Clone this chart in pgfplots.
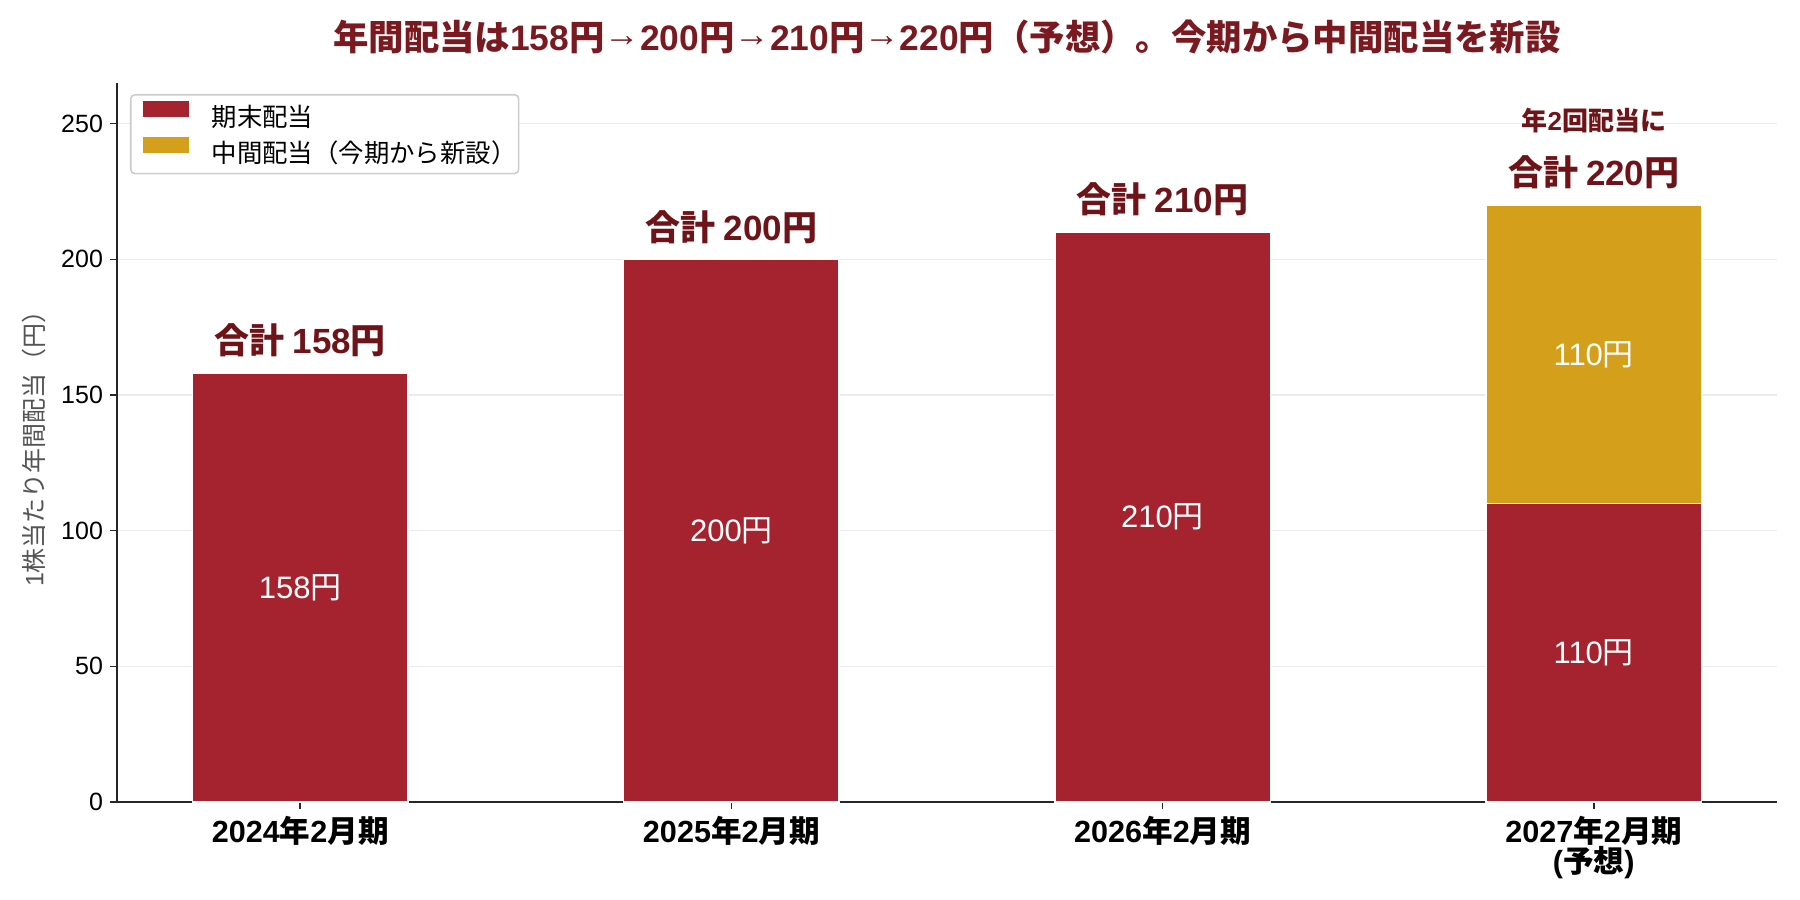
\documentclass[border=0pt]{standalone}
\usepackage{fontspec}
\setmainfont{Noto Sans CJK JP}
\newfontfamily\lat{Liberation Sans}
\newcommand\n[1]{{\lat #1}}
\newcommand\arr{\raisebox{2pt}{\lat →}}
\usepackage{pgfplots}
\pgfplotsset{compat=1.18}

\definecolor{kimatsu}{HTML}{A4232F}
\definecolor{chukan}{HTML}{D4A01B}
\definecolor{titlered}{HTML}{7A1A20}
\definecolor{labelred}{HTML}{6E1419}
\definecolor{gridgray}{HTML}{EBEBEB}
\definecolor{spine}{HTML}{262626}

\tikzset{
  inlabel/.style={text=white, font=\fontsize{15.5}{15.5}\selectfont},
  totlabel/.style={text=labelred, font=\bfseries\fontsize{17.5}{17.5}\selectfont},
}

\begin{document}
\begin{tikzpicture}
\useasboundingbox (-58.5pt,-49pt) rectangle (841.5pt,401pt);
\begin{axis}[
  at={(0pt,0pt)}, anchor=south west,
  scale only axis, width=830pt, height=359.5pt,
  clip=false,
  ybar stacked, bar width=0.5,
  xmin=-0.425, xmax=3.425,
  ymin=0, ymax=265,
  xtick={0,1,2,3},
  xticklabels={\n{2024}年\n{2}月期, \n{2025}年\n{2}月期, \n{2026}年\n{2}月期, {\n{2027}年\n{2}月期\\\n{(}予想\n{)}}},
  ytick={0,50,100,150,200,250},
  /pgf/number format/assume math mode=true,
  axis x line*=bottom, axis y line*=left,
  axis line style={spine, line width=1pt},
  tick align=outside, major tick length=3.5pt,
  tick style={spine, line width=0.8pt},
  ymajorgrids, grid style={gridgray, line width=0.8pt},
  x tick label style={font=\bfseries\fontsize{15.3}{15}\selectfont, align=center, text=black},
  y tick label style={font=\lat\fontsize{12.5}{13}\selectfont, text=black},
  ylabel={\n{1}株当たり年間配当（円）},
  ylabel style={at={(axis description cs:-0.05,0.5)}, anchor=center, font=\fontsize{12.5}{14}\selectfont, text=black!67},
  legend cell align=left,
  legend image code/.code={\fill[#1,draw=none,sharp corners] (0pt,0.6pt) rectangle (23pt,8.6pt);},
  legend style={at={(0,1)}, anchor=north west, xshift=6.5pt, yshift=-5.5pt,
    draw=black!20, rounded corners=2pt, line width=0.8pt,
    font=\fontsize{12.7}{15}\selectfont,
    inner xsep=6pt, inner ysep=3pt, row sep=2.7pt, column sep=11.5pt,
    nodes={inner sep=0pt, text height=11pt, text depth=2.5pt}},
]
% period-end dividend
\addplot[fill=kimatsu, draw=white, line width=0.8pt] coordinates {(0,158) (1,200) (2,210) (3,110)};
\addlegendentry{期末配当}
% interim dividend, introduced this year
\addplot[fill=chukan, draw=white, line width=0.8pt] coordinates {(0,0) (1,0) (2,0) (3,110)};
\addlegendentry{中間配当（今期から新設）\kern-5pt}

% anchor points for the values inside the bars (written after the axis)
\coordinate (v0) at (axis cs:0,79);
\coordinate (v1) at (axis cs:1,100);
\coordinate (v2) at (axis cs:2,105);
\coordinate (v3a) at (axis cs:3,55);
\coordinate (v3b) at (axis cs:3,165);

% totals above the bars
\node[totlabel] at (axis cs:0,170) {合計 \n{158}円};
\node[totlabel] at (axis cs:1,212) {合計 \n{200}円};
\node[totlabel] at (axis cs:2,222) {合計 \n{210}円};
\node[totlabel] at (axis cs:3,232) {合計 \n{220}円};
\node[text=labelred, font=\bfseries\fontsize{13}{13}\selectfont] at (axis cs:3,251) {年\n{2}回配当に};

% title
\node[text=titlered, font=\bfseries\fontsize{17.7}{18}\selectfont, yshift=23pt] at (rel axis cs:0.5,1)
  {年間配当は\n{158}円\arr\n{200}円\arr\n{210}円\arr\n{220}円（予想）。今期から中間配当を新設};
\end{axis}
\node[inlabel] at (v0) {\n{158}円};
\node[inlabel] at (v1) {\n{200}円};
\node[inlabel] at (v2) {\n{210}円};
\node[inlabel] at (v3a) {\n{110}円};
\node[inlabel] at (v3b) {\n{110}円};
\end{tikzpicture}
\end{document}
